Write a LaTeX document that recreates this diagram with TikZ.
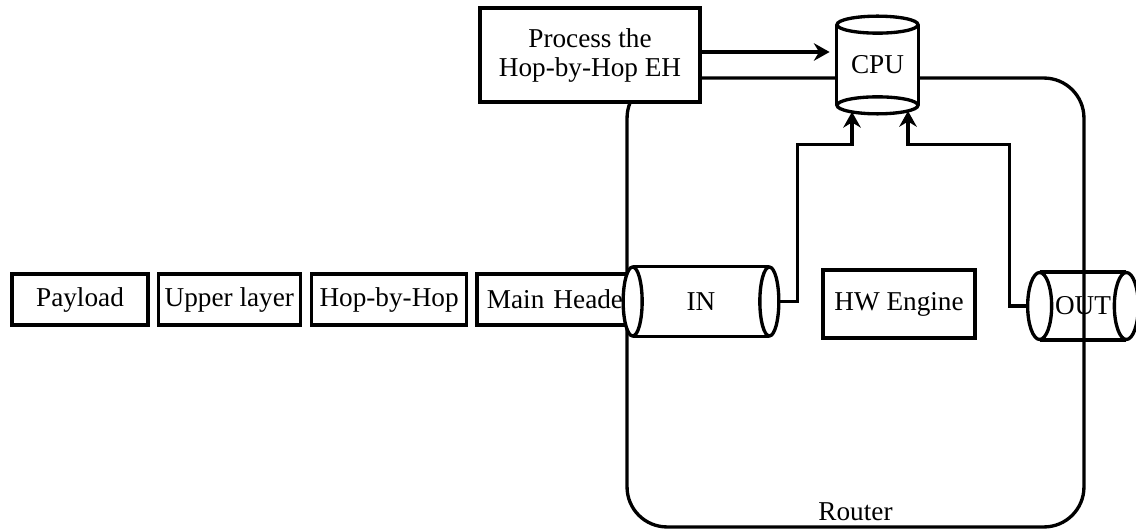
\documentclass[tikz,border=0pt]{standalone}
\usepackage{fontspec}
\setmainfont{Liberation Serif}
\usetikzlibrary{arrows.meta}

\begin{document}
\begin{tikzpicture}[x=0.02cm,y=-0.02cm]
\useasboundingbox (0,0) rectangle (1136,530);
\tikzstyle{hdrnode} = [rectangle,draw=black,line width=1.9pt,inner sep=2pt,minimum height=1.02cm,font=\fontsize{15.5}{16.5}\selectfont]
\tikzstyle{cylbody} = [rectangle,draw=none,inner sep=0pt,font=\fontsize{15.5}{16.5}\selectfont]
\tikzstyle{cylend} = [draw=black,fill=white,line width=1.9pt]
\tikzstyle{wire} = [draw=black,line width=1.9pt]
\tikzstyle{wirearrow} = [wire,-{Stealth[length=9pt,width=10pt,inset=3pt]}]
% router frame goes first, the rest sits on top of it
\node [rectangle,draw=black,line width=1.9pt,rounded corners=0.8cm,minimum width=9.14cm,minimum height=8.98cm] (router) at (855.5,302.5){};
\node (router_l) [anchor=south,font=\fontsize{15.5}{16.5}\selectfont] at ([yshift=0.04cm]router.south){Router};
%%%%%%%%%%%%%%%%%%%%%%%%%%%%%
% packet: Payload | Upper layer | Hop-by-Hop | Main Header
%%%%%%%%%%%%%%%%%%%%%%%%%%%%%
\node [hdrnode,minimum width=2.72cm] (payload) at (80,299.5){Payload};
\node [hdrnode,minimum width=2.84cm,anchor=west] (upper) at ([xshift=0.14cm]payload.east){Upper layer};
\node [hdrnode,minimum width=3.1cm,anchor=west] (hbh) at ([xshift=0.16cm]upper.east){Hop-by-Hop};
\node [hdrnode,minimum width=3.46cm,anchor=west,inner xsep=0.2cm,text width=3.06cm,align=left] (mainh) at ([xshift=0.14cm]hbh.east){Main Header};
%%%%%%%%%%%%%%%%%%%%%%%%%%%%%
% IN / HW Engine / OUT / CPU
%%%%%%%%%%%%%%%%%%%%%%%%%%%%%
\node [cylbody,fill=white,minimum width=2.72cm,minimum height=1.38cm] (in) at (701,301.5){IN};
\node [cylbody,fill=white,minimum width=1.62cm,minimum height=1.6cm] (cpu) at (877.5,65){CPU};
\node [hdrnode,minimum width=3.04cm,minimum height=1.36cm] (hw) at (899,304){HW Engine};
\node [cylbody,minimum width=1.72cm,minimum height=1.34cm] (out) at (1083,306){OUT};
\node [hdrnode,fill=white,align=center,minimum width=4.4cm,minimum height=1.88cm] (proc) at (590,55){Process the\\Hop-by-Hop EH};
% connectors
\draw [wirearrow,shorten >=4pt] ([yshift=0.06cm]proc.east) -- ([yshift=0.06cm]proc.east -| cpu.west);
\draw [wirearrow,shorten >=3.7pt] (in.east) -- ++(28,0) |- ([xshift=-0.51cm,yshift=-0.78cm]cpu.south) -- ([xshift=-0.51cm]cpu.south);
\draw [wirearrow,shorten >=3.2pt] (out.west) -- ++(-30,0) |- ([xshift=0.61cm,yshift=-0.78cm]cpu.south) -- ([xshift=0.61cm]cpu.south);
% cylinder ends
\draw [cylend] (in.west) ellipse (0.19cm and 0.69cm);
\draw [cylend] (in.east) ellipse (0.19cm and 0.69cm);
\draw [wire] (in.north west) -- (in.north east) (in.south west) -- (in.south east);
\draw [cylend] (cpu.north) ellipse (0.81cm and 0.17cm);
\draw [cylend] (cpu.south) ellipse (0.81cm and 0.17cm);
\draw [wire] (cpu.north west) -- (cpu.south west) (cpu.north east) -- (cpu.south east);
\draw [cylend] (out.west) ellipse (0.24cm and 0.67cm);
\draw [cylend] (out.east) ellipse (0.24cm and 0.67cm);
\draw [wire] (out.north west) -- (out.north east) (out.south west) -- (out.south east);
\end{tikzpicture}
\end{document}
